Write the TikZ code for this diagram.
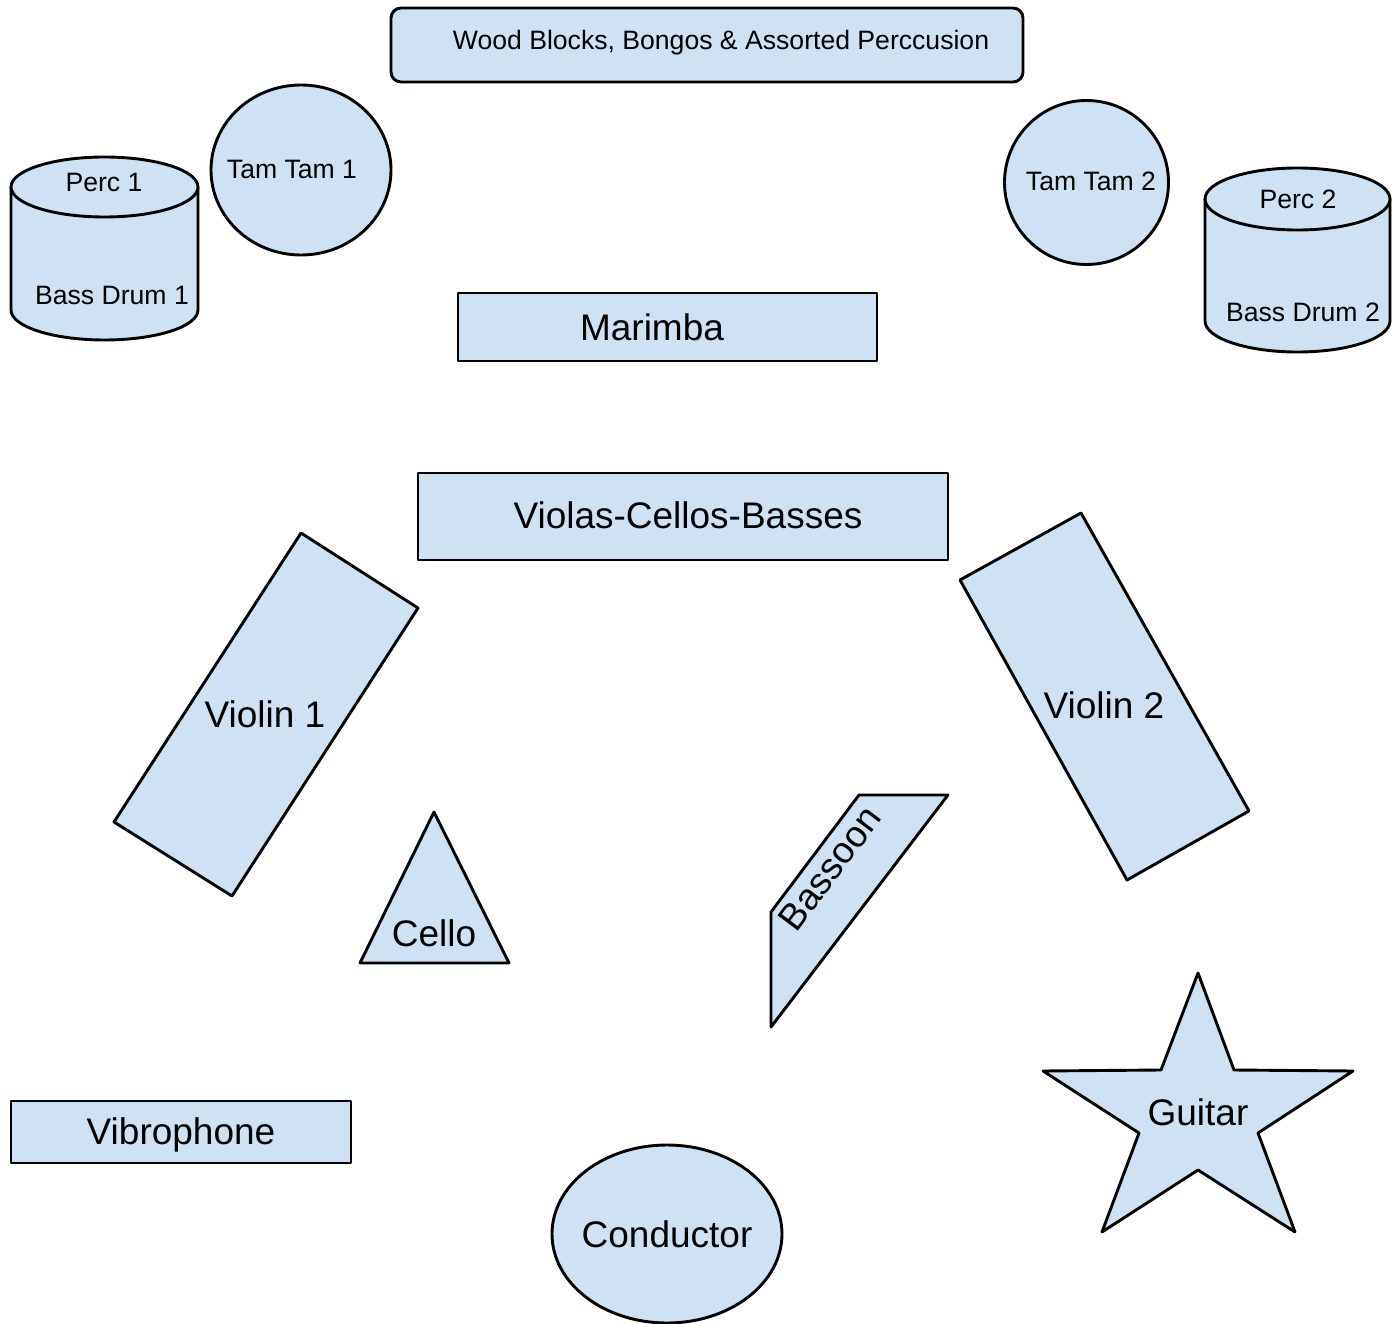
\documentclass[tikz,border=0pt]{standalone}
\usepackage{fontspec}
\setmainfont{Liberation Sans}
\definecolor{shapefill}{HTML}{CFE2F3}
\tikzset{
  shp/.style={draw=black, fill=shapefill, line width=2.9pt, line join=round},
  small/.style={font=\fontsize{26.6}{30}\selectfont, inner sep=0pt, text height=19.2pt, text depth=0pt},
  big/.style={font=\fontsize{37}{42}\selectfont, inner sep=0pt, text height=26.6pt, text depth=0pt},
}
\begin{document}
\begin{tikzpicture}[x=1pt,y=-1pt]
\useasboundingbox (0,0) rectangle (1393,1324);

% Wood blocks
\draw[shp, rounded corners=10pt] (391,8) rectangle (1023,82);
\node[small] (wood) at (721,40) {Wood Blocks, Bongos \& Assorted Perccusion};

% Perc 1 cylinder
\path[shp] (11,187) -- (11,310) arc[start angle=180,end angle=360,x radius=93.5pt,y radius=30pt] -- (198,187) -- cycle;
\path[shp] (104.5,187) ellipse[x radius=93.5pt,y radius=30pt];
\node[small] (perc1) at (104,182) {Perc 1};
\node[small] (bd1) at (112,295) {Bass Drum 1};

% Perc 2 cylinder
\path[shp] (1205,199) -- (1205,321) arc[start angle=180,end angle=360,x radius=92.5pt,y radius=31pt] -- (1390,199) -- cycle;
\path[shp] (1297.5,199) ellipse[x radius=92.5pt,y radius=31pt];
\node[small] (perc2) at (1298,199) {Perc 2};
\node[small] (bd2) at (1303,312) {Bass Drum 2};

% Tam Tams
\path[shp] (301,170) ellipse[x radius=90pt,y radius=85pt];
\node[small] (tam1) at (292,169) {Tam Tam 1};
\path[shp] (1086.5,182.5) ellipse[x radius=82pt,y radius=82pt];
\node[small] (tam2) at (1091,181) {Tam Tam 2};

% Marimba
\draw[shp] (458,293) rectangle (877,361);
\node[big] (marimba) at (652,327) {Marimba};

% Violas-Cellos-Basses
\draw[shp] (418,473) rectangle (948,560);
\node[big] (vcb) at (688,515) {Violas-Cellos-Basses};

% Violin 1
\draw[shp] (301,533) -- (418,608) -- (232,896) -- (114,822) -- cycle;
\node[big] (v1) at (265,714) {Violin 1};

% Violin 2
\draw[shp] (1081,513) -- (1249,811) -- (1127,880) -- (960,580) -- cycle;
\node[big] (v2) at (1104,705) {Violin 2};

% Cello
\draw[shp] (434,812) -- (509,963) -- (360,963) -- cycle;
\node[big] (cello) at (434,933) {Cello};

% Bassoon
\draw[shp] (859,795) -- (948,795) -- (771,1027) -- (771,912) -- cycle;
\node[big, rotate=53] (bassoon) at (829,868) {Bassoon};

% Guitar
\draw[shp] (1198,973) -- (1234,1070) -- (1353,1071) -- (1258,1133) -- (1295,1232)
  -- (1198,1170) -- (1102,1232) -- (1139,1133) -- (1043,1071) -- (1161,1070) -- cycle;
\node[big] (guitar) at (1198,1112) {Guitar};

% Vibrophone
\draw[shp] (11,1101) rectangle (351,1163);
\node[big] (vibro) at (181,1131) {Vibrophone};

% Conductor
\path[shp] (667,1234) ellipse[x radius=115pt,y radius=89pt];
\node[big] (cond) at (667,1234) {Conductor};
\end{tikzpicture}
\end{document}
